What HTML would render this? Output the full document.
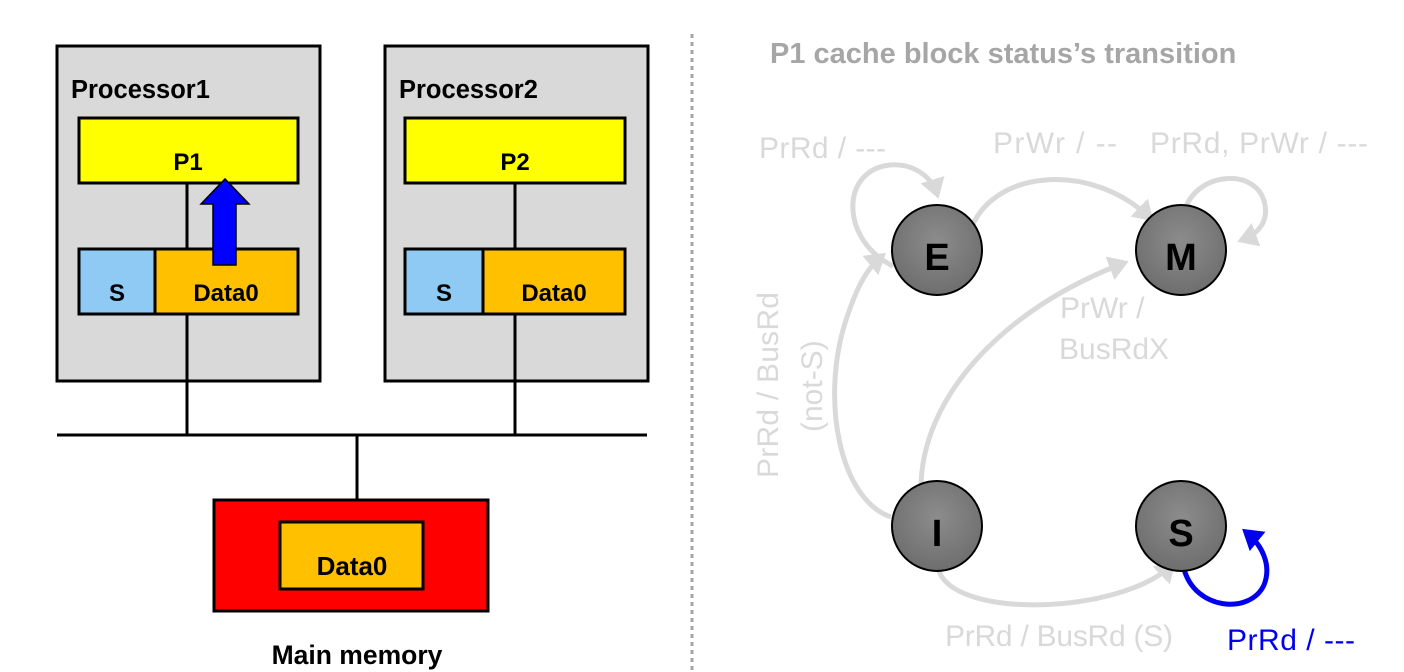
<!DOCTYPE html>
<html><head><meta charset="utf-8"><style>
html,body{margin:0;padding:0;background:#fff;width:1404px;height:672px;overflow:hidden}
svg{display:block}
text{font-family:"Liberation Sans","DejaVu Sans",sans-serif}
</style></head><body>
<svg width="1404" height="672" viewBox="0 0 1404 672" xmlns="http://www.w3.org/2000/svg">
<defs>
<radialGradient id="g" cx="50%" cy="40%" r="60%"><stop offset="0" stop-color="#8c8c8c"/><stop offset="1" stop-color="#6e6e6e"/></radialGradient>
<marker id="ag" markerWidth="5" markerHeight="5" refX="3" refY="2.5" orient="auto" markerUnits="strokeWidth"><path d="M0,0 L4,2.5 L0,5 Z" fill="#d9d9d9"/></marker>
<marker id="ab" markerWidth="5" markerHeight="5" refX="3" refY="2.5" orient="auto" markerUnits="strokeWidth"><path d="M0,0 L4,2.5 L0,5 Z" fill="#0000ee"/></marker>
</defs>
<rect x="57" y="46" width="263" height="335" fill="#d9d9d9" stroke="#000" stroke-width="3"/>
<rect x="385" y="46" width="263" height="335" fill="#d9d9d9" stroke="#000" stroke-width="3"/>
<text x="71" y="98" font-size="25.5" font-weight="bold">Processor1</text>
<text x="399" y="98" font-size="25.5" font-weight="bold">Processor2</text>
<line x1="187" y1="183" x2="187" y2="435" stroke="#000" stroke-width="3"/>
<line x1="515" y1="183" x2="515" y2="435" stroke="#000" stroke-width="3"/>
<rect x="79" y="118" width="219" height="65" fill="#ffff00" stroke="#000" stroke-width="3"/>
<rect x="405" y="118" width="220" height="65" fill="#ffff00" stroke="#000" stroke-width="3"/>
<text x="188" y="170" font-size="24" font-weight="bold" text-anchor="middle">P1</text>
<text x="515" y="170" font-size="24" font-weight="bold" text-anchor="middle">P2</text>
<rect x="79" y="249" width="76" height="65" fill="#8fcaf5" stroke="#000" stroke-width="3"/>
<rect x="155" y="249" width="143" height="65" fill="#ffc000" stroke="#000" stroke-width="3"/>
<rect x="405" y="249" width="78" height="65" fill="#8fcaf5" stroke="#000" stroke-width="3"/>
<rect x="483" y="249" width="142" height="65" fill="#ffc000" stroke="#000" stroke-width="3"/>
<text x="117" y="301" font-size="24" font-weight="bold" text-anchor="middle">S</text>
<text x="226" y="301" font-size="24" font-weight="bold" text-anchor="middle">Data0</text>
<text x="444" y="301" font-size="24" font-weight="bold" text-anchor="middle">S</text>
<text x="554" y="301" font-size="24" font-weight="bold" text-anchor="middle">Data0</text>
<path d="M213,265 L236,265 L236,204 L249,204 L225,179 L201,204 L213,204 Z" fill="#0000ff" stroke="#000" stroke-width="1.5"/>
<line x1="57" y1="435" x2="647" y2="435" stroke="#000" stroke-width="3"/>
<line x1="357" y1="435" x2="357" y2="500" stroke="#000" stroke-width="3"/>
<rect x="214" y="500" width="274" height="111" fill="#ff0000" stroke="#000" stroke-width="3"/>
<rect x="280" y="522" width="143" height="67" fill="#ffc000" stroke="#000" stroke-width="3"/>
<text x="352" y="575" font-size="26" font-weight="bold" text-anchor="middle">Data0</text>
<text x="357" y="664" font-size="26.5" font-weight="bold" text-anchor="middle">Main memory</text>
<line x1="692" y1="34" x2="692" y2="672" stroke="#a6a6a6" stroke-width="3" stroke-dasharray="4,4"/>
<text x="770" y="63" font-size="29" font-weight="bold" fill="#a6a6a6">P1 cache block status’s transition</text>
<g fill="none" stroke="#d9d9d9" stroke-width="5">
<path d="M893,266 C840,240 840,170 890,165 C915,163 932,178 937,194" marker-end="url(#ag)"/>
<path d="M970,232 C990,170 1090,160 1150,218" marker-end="url(#ag)"/>
<path d="M1184,214 C1192,172 1258,165 1265,205 C1268,222 1258,234 1242,240" marker-end="url(#ag)"/>
<path d="M891,517 C840,500 820,400 846,320 C856,290 865,270 882,256" marker-end="url(#ag)"/>
<path d="M921,490 C920,400 1000,310 1124,263" marker-end="url(#ag)"/>
<path d="M938,568 C950,620 1120,615 1172,565" marker-end="url(#ag)"/>
</g>
<path d="M1184,569 C1195,610 1250,615 1264,585 C1272,565 1262,545 1246,532" fill="none" stroke="#0000ee" stroke-width="5" marker-end="url(#ab)"/>
<g stroke="#000" stroke-width="2" fill="url(#g)">
<circle cx="937" cy="250" r="45"/><circle cx="1181" cy="250" r="45"/>
<circle cx="937" cy="526" r="45"/><circle cx="1181" cy="526" r="45"/>
</g>
<g font-size="38" font-weight="bold" text-anchor="middle" fill="#000">
<text x="937" y="270">E</text><text x="1181" y="270">M</text>
<text x="937" y="546">I</text><text x="1181" y="546">S</text>
</g>
<g font-size="30" fill="#d9d9d9">
<text x="759" y="158" textLength="127">PrRd / ---</text>
<text x="993" y="153" textLength="124">PrWr / --</text>
<text x="1150" y="153" textLength="218">PrRd, PrWr / ---</text>
<text x="1060" y="318">PrWr /</text>
<text x="1059" y="359">BusRdX</text>
<text x="945" y="646" textLength="228">PrRd / BusRd (S)</text>
<text transform="translate(778,478) rotate(-90)" textLength="186">PrRd / BusRd</text>
<text transform="translate(822,432) rotate(-90)">(not-S)</text>
</g>
<text x="1227" y="650" font-size="30" fill="#0000ee" textLength="128">PrRd / ---</text>
</svg>
</body></html>
